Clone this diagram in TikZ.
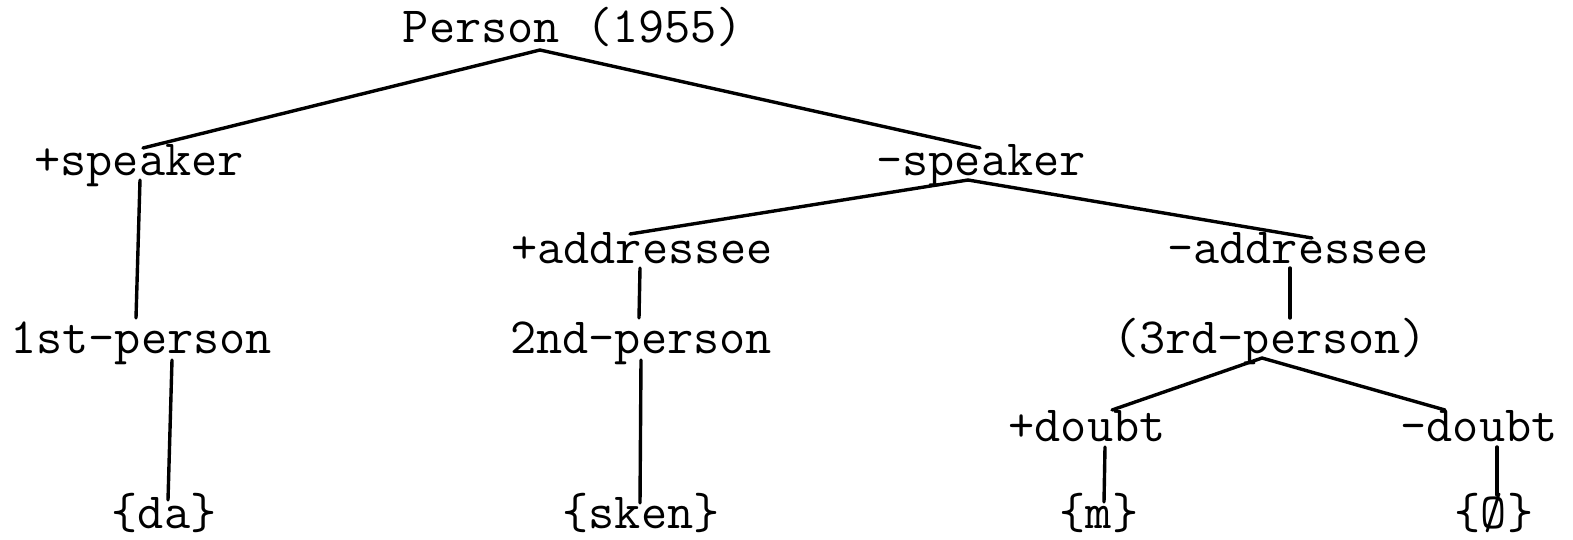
\documentclass[tikz,border=0pt]{standalone}
\usepackage{fontspec}
\tikzset{
  feat/.style={anchor=base, inner sep=0pt, font=\ttfamily\fontsize{25.4}{29}\selectfont},
  branch/.style={line width=1.7pt, line cap=round}
}
\begin{document}
\begin{tikzpicture}[x=0.5pt, y=-0.5pt]
    \useasboundingbox (0,0) rectangle (1573,540);

    % Wurzel
    \node[feat] (person) at (573,43) {Person (1955)};

    % Sprecher
    \node[feat] (spkplus)  at (139,175) {+speaker};
    \node[feat] (spkminus) at (981,175) {-speaker};

    % Adressat
    \node[feat] (addplus)  at (642,263) {+addressee};
    \node[feat] (addminus) at (1298,263) {-addressee};

    % Personen
    \node[feat] (first)  at (141,353) {1st-person};
    \node[feat] (second) at (641,353) {2nd-person};
    \node[feat] (third)  at (1270,353) {(3rd-person)};

    % Zweifel
    \node[feat] (dbtplus)  at (1087,441) {+doubt};
    \node[feat] (dbtminus) at (1479,441) {-doubt};

    % Formen
    \node[feat] (da)   at (164,528) {\{da\}};
    \node[feat] (sken) at (641,528) {\{sken\}};
    \node[feat] (m)    at (1099,528) {\{m\}};
    \node[feat] (zero) at (1494,528) {\{Ø\}};

    % Aeste
    \draw[branch] ([shift={(-33,7)}]person.base) -- ([shift={(4,-27)}]spkplus.base);
    \draw[branch] ([shift={(-33,7)}]person.base) -- ([shift={(-1,-27)}]spkminus.base);
    \draw[branch] ([shift={(1,5)}]spkplus.base) -- ([shift={(-5,-35)}]first.base);
    \draw[branch] ([shift={(31,7)}]first.base) -- ([shift={(4,-28)}]da.base);
    \draw[branch] ([shift={(-13,5)}]spkminus.base) -- ([shift={(-12,-29)}]addplus.base);
    \draw[branch] ([shift={(-13,5)}]spkminus.base) -- ([shift={(14,-25)}]addminus.base);
    \draw[branch] ([shift={(-2,5)}]addplus.base) -- ([shift={(-2,-35)}]second.base);
    \draw[branch] ([shift={(0,7)}]second.base) -- ([shift={(-1,-25)}]sken.base);
    \draw[branch] ([shift={(-8,5)}]addminus.base) -- ([shift={(20,-35)}]third.base);
    \draw[branch] ([shift={(-8,5)}]third.base) -- ([shift={(25,-31)}]dbtplus.base);
    \draw[branch] ([shift={(-8,5)}]third.base) -- ([shift={(-34,-31)}]dbtminus.base);
    \draw[branch] ([shift={(18,6)}]dbtplus.base) -- ([shift={(5,-26)}]m.base);
    \draw[branch] ([shift={(18,6)}]dbtminus.base) -- ([shift={(3,-33)}]zero.base);
\end{tikzpicture}
\end{document}
